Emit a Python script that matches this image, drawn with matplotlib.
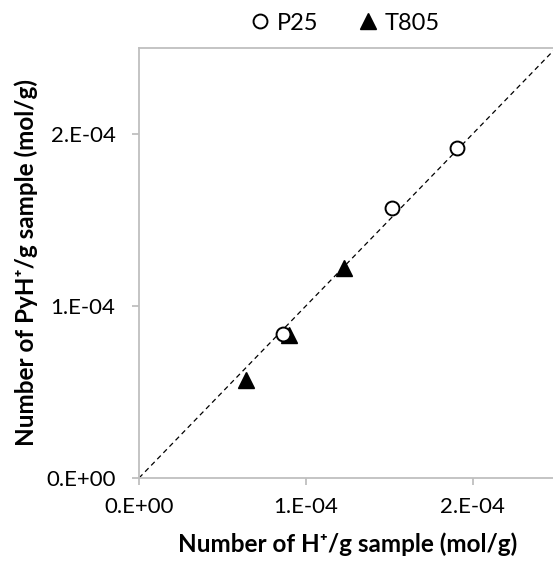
import matplotlib
matplotlib.use("Agg")
import matplotlib.pyplot as plt

plt.rcParams['font.family'] = ['Lato', 'DejaVu Sans']

# P25 (open circles)
p25_h = [1.908e-4, 1.519e-4, 0.864e-4]
p25_py = [1.921e-4, 1.569e-4, 0.839e-4]
# T805 (filled triangles)
t805_h = [1.229e-4, 0.900e-4, 0.641e-4]
t805_py = [1.223e-4, 0.829e-4, 0.568e-4]

ticks = [0, 1e-4, 2e-4]
tick_labels = ['0.E+00', '1.E-04', '2.E-04']
lim = 2.5e-4

fig = plt.figure(figsize=(5.53, 5.61), dpi=100)
ax = fig.add_axes([139/553, 83/561, 417/553, 430/561])

ax.plot([0, lim], [0, lim], ls=(0, (4, 3)), color='black', lw=0.9, zorder=1)
ax.plot(p25_h, p25_py, 'o', ms=10, mfc='white', mec='black', mew=1.4, label='P25', zorder=3)
ax.plot(t805_h, t805_py, '^', ms=11, color='black', label='T805', zorder=2)

ax.set_xlim(0, lim)
ax.set_ylim(0, lim)
ax.set_xticks(ticks)
ax.set_xticklabels(tick_labels)
ax.set_yticks(ticks)
ax.set_yticklabels(tick_labels)

for s in ['top', 'left', 'bottom', 'right']:
    ax.spines[s].set_color('#bfbfbf')
    ax.spines[s].set_linewidth(1.3)
ax.tick_params(axis='both', color='#bfbfbf', width=1.3, length=5, labelsize=16)
ax.tick_params(axis='x', pad=9)
ax.tick_params(axis='y', pad=12)

ax.set_xlabel('Number of H\u207a/g sample (mol/g)', fontsize=17.5, fontweight='bold', labelpad=11)
ax.set_ylabel('Number of PyH\u207a/g sample (mol/g)', fontsize=17.5, fontweight='bold', labelpad=6)

fig.legend(loc='center', bbox_to_anchor=(343/553, 1 - 23/561), ncol=2, frameon=False,
           fontsize=17, handletextpad=0.1, columnspacing=1.5, handlelength=1.2)

fig.savefig('out.png', dpi=100)
